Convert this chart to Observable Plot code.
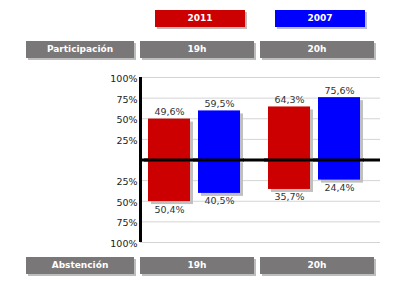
<!DOCTYPE html>
<html>
<head>
<meta charset="utf-8">
<script src="https://cdn.jsdelivr.net/npm/d3@7"></script>
<script src="https://cdn.jsdelivr.net/npm/@observablehq/plot@0.6"></script>
<style>
  body { margin: 0; background: #fff; }
  #wrap { position: relative; width: 400px; height: 300px; font-family: "DejaVu Sans", Verdana, sans-serif; }
  #wrap svg { position: absolute; left: 0; top: 0; }
  .box { position: absolute; height: 17px; line-height: 17px; color: #fff; text-align: center;
         font-size: 9px; font-weight: bold; box-shadow: 2px 2px 0 #bdbdbd; }
  .gray { background: #7a7779; }
</style>
</head>
<body>
<div id="wrap"></div>
<script>
// ---- data ----
const groups = ["19h", "20h"];
const years = ["2011", "2007"];
const yearColors = ["#cc0000", "#0000ff"];
const participation2011 = [49.6, 64.3];
const participation2007 = [59.5, 75.6];
const abstention2011 = [50.4, 35.7];
const abstention2007 = [40.5, 24.4];
const rowLabels = ["Participación", "Abstención"];
const yTicks = [100, 75, 50, 25, -25, -50, -75, -100];

const fmt = v => String(v.toFixed(1)).replace(".", ",") + "%";

const rows = [];
groups.forEach((g, i) => {
  rows.push({group: g, year: "2011", kind: "p", value: participation2011[i]});
  rows.push({group: g, year: "2007", kind: "p", value: participation2007[i]});
  rows.push({group: g, year: "2011", kind: "a", value: -abstention2011[i]});
  rows.push({group: g, year: "2007", kind: "a", value: -abstention2007[i]});
});
const partRows = rows.filter(d => d.kind === "p");
const absRows = rows.filter(d => d.kind === "a");

const wrap = document.getElementById("wrap");
const W = 400, H = 300;
const yOpts = {domain: [-100, 100]};
const mTop = 77, mBottom = 58;

// ---- background: grid + axes ----
const bg = Plot.plot({
  width: W, height: H,
  marginLeft: 140, marginRight: 20, marginTop: mTop, marginBottom: mBottom,
  x: {domain: [0, 1], axis: null},
  y: {...yOpts, axis: null},
  style: {fontFamily: "DejaVu Sans, Verdana, sans-serif", background: "transparent"},
  marks: [
    Plot.ruleY(yTicks, {stroke: "#d4d4d4", strokeWidth: 1}),
    Plot.axisY(yTicks, {tickSize: 0, tickPadding: 3, fontSize: 9.5, fill: "#222",
      tickFormat: d => Math.abs(d) + "%", dy: 1.5}),
    Plot.ruleY([0], {stroke: "#000", strokeWidth: 3}),
    Plot.ruleX([0], {y1: -100, y2: 100, stroke: "#000", strokeWidth: 3})
  ]
});
wrap.appendChild(bg);

// ---- foreground: bars ----
const fg = Plot.plot({
  width: W, height: H,
  marginLeft: 134, marginRight: 26, marginTop: mTop, marginBottom: mBottom,
  fx: {domain: groups, paddingInner: 1/6, paddingOuter: 1/12, axis: null, round: false},
  x: {domain: years, paddingInner: 0.16, paddingOuter: 0.08, axis: null, round: false},
  y: {...yOpts, axis: null},
  color: {domain: years, range: yearColors},
  facet: {marginTop: 0, marginBottom: 0, marginLeft: 0, marginRight: 0},
  style: {fontFamily: "DejaVu Sans, Verdana, sans-serif", background: "transparent"},
  marks: [
    Plot.barY(rows, {fx: "group", x: "year", y1: 0, y2: "value", fill: "#c0c0c0", dx: 3, dy: 3}),
    Plot.barY(rows, {fx: "group", x: "year", y1: 0, y2: "value", fill: "year"}),
    Plot.ruleY([0], {stroke: "#000", strokeWidth: 3}),
    Plot.text(partRows, {fx: "group", x: "year", y: "value", text: d => fmt(d.value),
      dy: -7, fontSize: 9.5, fill: "#333"}),
    Plot.text(absRows, {fx: "group", x: "year", y: "value", text: d => fmt(-d.value),
      dy: 8, fontSize: 9.5, fill: "#333"})
  ]
});
wrap.appendChild(fg);

// ---- header boxes ----
function box(text, left, top, width, cls, bgc) {
  const el = document.createElement("div");
  el.className = "box " + (cls || "");
  el.style.left = left + "px"; el.style.top = top + "px"; el.style.width = width + "px";
  if (bgc) el.style.background = bgc;
  el.textContent = text;
  wrap.appendChild(el);
}
box(years[0], 155, 10, 90, "", yearColors[0]);
box(years[1], 275, 10, 90, "", yearColors[1]);
[[rowLabels[0], 41], [rowLabels[1], 257]].forEach(([lab, top]) => {
  box(lab, 26, top, 108, "gray");
  box(groups[0], 140, top, 114, "gray");
  box(groups[1], 260, top, 114, "gray");
});
</script>
</body>
</html>
